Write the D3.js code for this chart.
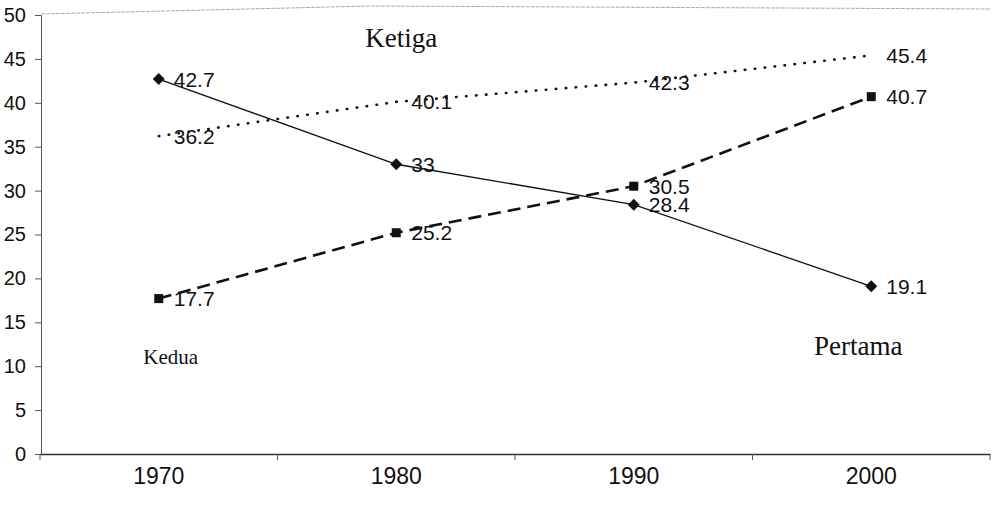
<!DOCTYPE html>
<html>
<head>
<meta charset="utf-8">
<style>
body { margin: 0; background: #fff; }
svg { display: block; }
</style>
</head>
<body>
<svg width="995" height="506"></svg>
<script src="https://cdn.jsdelivr.net/npm/d3@7"></script>
<script>
// data
var years = ["1970", "1980", "1990", "2000"];
var pertama = [42.7, 33, 28.4, 19.1];
var kedua = [17.7, 25.2, 30.5, 40.7];
var ketiga = [36.2, 40.1, 42.3, 45.4];
var yTicks = [0, 5, 10, 15, 20, 25, 30, 35, 40, 45, 50];
// series names written inside the plot: [name, year, value, dx, font size]
var names = [["Ketiga", "1980", 46.4, 5, 27], ["Kedua", "1970", 10.2, 12, 21], ["Pertama", "2000", 11.3, -13, 27]];

var svg = d3.select("svg");
var mLeft = 41, mRight = 990, mTop = 15, mBottom = 454;

var x = d3.scaleBand().domain(years).range([mLeft - 1, mRight]);
var y = d3.scaleLinear().domain([0, 50]).range([mBottom, mTop]);
var cx = function(d, i) { return x(years[i]) + x.bandwidth() / 2; };

// faint frame line along the top, as in the scan
svg.append("path")
  .attr("d", "M" + mLeft + "," + (y(50) - 1) + " L" + (mLeft + 330) + "," + (y(50) - 9) + " L" + mRight + "," + (y(50) - 6))
  .attr("fill", "none")
  .attr("stroke", "#aaa")
  .attr("stroke-dasharray", "4,1")
  .attr("stroke-width", 1);

// y axis
var ya = svg.append("g")
  .attr("transform", "translate(" + mLeft + ",0)")
  .call(d3.axisLeft(y).tickValues(yTicks).tickSize(6).tickPadding(9).tickSizeOuter(0));
ya.select(".domain").attr("stroke", "#555");
ya.selectAll(".tick line").attr("stroke", "#555");
ya.selectAll("text")
  .attr("font-family", "Liberation Sans, Arial, sans-serif")
  .attr("font-size", 20)
  .attr("fill", "#111");

// x axis: labels at band centres, tick marks at band edges
var xa = svg.append("g")
  .attr("transform", "translate(0," + mBottom + ")")
  .call(d3.axisBottom(x).tickSize(0).tickPadding(14));
xa.select(".domain").attr("stroke", "#333").attr("stroke-width", 1.6);
xa.selectAll("text")
  .attr("font-family", "Liberation Sans, Arial, sans-serif")
  .attr("font-size", 23)
  .attr("fill", "#111");
xa.selectAll(".edge")
  .data(years.map(function(d) { return x(d); }).concat([x.range()[1]]))
  .enter()
  .append("line")
  .attr("class", "edge")
  .attr("x1", function(d) { return d; })
  .attr("x2", function(d) { return d; })
  .attr("y1", 0)
  .attr("y2", 6)
  .attr("stroke", "#555");

var line = d3.line()
  .x(cx)
  .y(function(d) { return y(d); });

// Ketiga: dotted
svg.append("path")
  .datum(ketiga)
  .attr("d", line)
  .attr("fill", "none")
  .attr("stroke", "#111")
  .attr("stroke-width", 2.6)
  .attr("stroke-linecap", "round")
  .attr("stroke-dasharray", "0.5,9.5");

// Kedua: dashed
svg.append("path")
  .datum(kedua)
  .attr("d", line)
  .attr("fill", "none")
  .attr("stroke", "#111")
  .attr("stroke-width", 2.6)
  .attr("stroke-dasharray", "13,7");

// Pertama: solid
svg.append("path")
  .datum(pertama)
  .attr("d", line)
  .attr("fill", "none")
  .attr("stroke", "#111")
  .attr("stroke-width", 1.3);

svg.selectAll(".sq")
  .data(kedua)
  .enter()
  .append("rect")
  .attr("class", "sq")
  .attr("x", function(d, i) { return cx(d, i) - 4.5; })
  .attr("y", function(d) { return y(d) - 4.5; })
  .attr("width", 9)
  .attr("height", 9)
  .attr("fill", "#111");

svg.selectAll(".dia")
  .data(pertama)
  .enter()
  .append("path")
  .attr("class", "dia")
  .attr("transform", function(d, i) { return "translate(" + cx(d, i) + "," + y(d) + ")"; })
  .attr("d", "M0,-6 L6,0 L0,6 L-6,0 Z")
  .attr("fill", "#111");

// value labels
[pertama, kedua, ketiga].forEach(function(s, k) {
  svg.selectAll(".lab" + k)
    .data(s)
    .enter()
    .append("text")
    .attr("class", "lab" + k)
    .attr("x", function(d, i) { return cx(d, i) + 15; })
    .attr("y", function(d) { return y(d); })
    .attr("dy", "0.36em")
    .attr("font-family", "Liberation Sans, Arial, sans-serif")
    .attr("font-size", 21)
    .attr("fill", "#111")
    .text(function(d) { return d; });
});

// series names
svg.selectAll(".name")
  .data(names)
  .enter()
  .append("text")
  .attr("class", "name")
  .attr("x", function(d) { return x(d[1]) + x.bandwidth() / 2 + d[3]; })
  .attr("y", function(d) { return y(d[2]); })
  .attr("text-anchor", "middle")
  .attr("font-family", "Liberation Serif, Times New Roman, serif")
  .attr("font-size", function(d) { return d[4]; })
  .attr("fill", "#111")
  .text(function(d) { return d[0]; });
</script>
</body>
</html>
